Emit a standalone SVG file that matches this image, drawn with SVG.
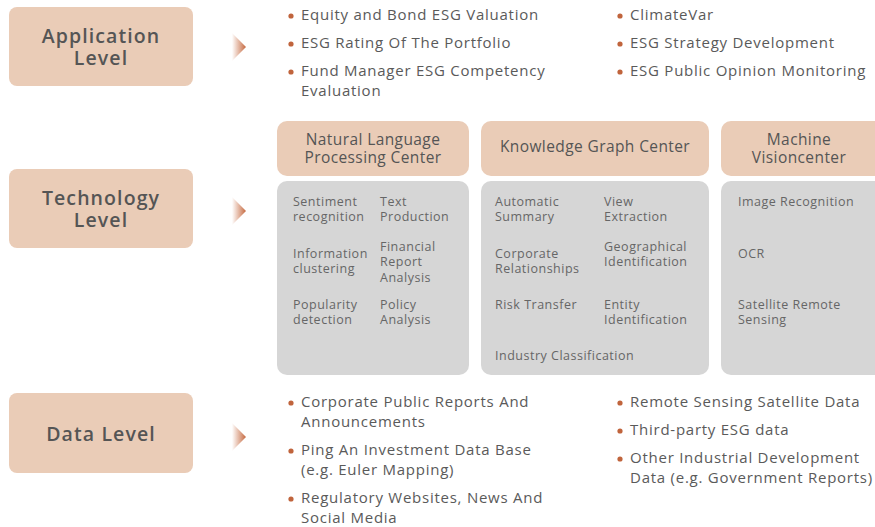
<svg xmlns="http://www.w3.org/2000/svg" width="875" height="527" viewBox="0 0 875 527">
<defs>
<linearGradient id="ag" x1="0" y1="0" x2="1" y2="0">
<stop offset="0" stop-color="#ffffff"/>
<stop offset="1" stop-color="#c6693f"/>
</linearGradient>
<style>
.lvl{fill:#eaccb7}
.lt{font-family:"Open Sans","Liberation Sans",sans-serif;font-size:19.5px;font-weight:600;fill:#555555;text-anchor:middle;letter-spacing:1.1px}
.hdr{fill:#eaccb7}
.body{fill:#d6d6d6}
.ht{font-family:"Open Sans","Liberation Sans",sans-serif;font-size:15.5px;fill:#555555;text-anchor:middle;letter-spacing:0.4px}
.bt{font-family:"Open Sans","Liberation Sans",sans-serif;font-size:12.5px;fill:#666666;letter-spacing:0.5px}
.it{font-family:"Open Sans","Liberation Sans",sans-serif;font-size:15px;fill:#5a5a5a;letter-spacing:0.75px}
.dot{fill:#c0643c}
</style>
</defs>
<rect width="875" height="527" fill="#ffffff"/>

<g id="application-level">
<rect class="lvl" x="9" y="7" width="184" height="79" rx="8"/>
<text class="lt" x="101" y="43">Application<tspan x="101" dy="22">Level</tspan></text>
</g>
<g id="technology-level">
<rect class="lvl" x="9" y="169" width="184" height="79" rx="8"/>
<text class="lt" x="101" y="205">Technology<tspan x="101" dy="22">Level</tspan></text>
</g>
<g id="data-level">
<rect class="lvl" x="9" y="393" width="184" height="80" rx="8"/>
<text class="lt" x="101" y="441">Data Level</text>
</g>

<g id="connectors">
<polygon points="232,33 246,47 232,61" fill="url(#ag)"/>
<polygon points="232,197 246,211 232,225" fill="url(#ag)"/>
<polygon points="232,423 246,437 232,451" fill="url(#ag)"/>
</g>

<g id="application-items">
<circle class="dot" cx="291" cy="16" r="2.6"/>
<text class="it" x="301" y="20">Equity and Bond ESG Valuation</text>
<circle class="dot" cx="291" cy="44" r="2.6"/>
<text class="it" x="301" y="48">ESG Rating Of The Portfolio</text>
<circle class="dot" cx="291" cy="72" r="2.6"/>
<text class="it" x="301" y="76">Fund Manager ESG Competency<tspan x="301" dy="20">Evaluation</tspan></text>
<circle class="dot" cx="620" cy="16" r="2.6"/>
<text class="it" x="630" y="20">ClimateVar</text>
<circle class="dot" cx="620" cy="44" r="2.6"/>
<text class="it" x="630" y="48">ESG Strategy Development</text>
<circle class="dot" cx="620" cy="72" r="2.6"/>
<text class="it" x="630" y="76">ESG Public Opinion Monitoring</text>
</g>

<g id="nlp-center">
<rect class="hdr" x="277" y="121" width="192" height="55" rx="10"/>
<text class="ht" x="373" y="145">Natural Language<tspan x="373" dy="18">Processing Center</tspan></text>
<rect class="body" x="277" y="181" width="192" height="194" rx="10"/>
<text class="bt" x="293" y="206">Sentiment<tspan x="293" dy="15">recognition</tspan></text>
<text class="bt" x="380" y="206">Text<tspan x="380" dy="15">Production</tspan></text>
<text class="bt" x="293" y="258">Information<tspan x="293" dy="15">clustering</tspan></text>
<text class="bt" x="380" y="251">Financial<tspan x="380" dy="15">Report</tspan><tspan x="380" dy="16">Analysis</tspan></text>
<text class="bt" x="293" y="309">Popularity<tspan x="293" dy="15">detection</tspan></text>
<text class="bt" x="380" y="309">Policy<tspan x="380" dy="15">Analysis</tspan></text>
</g>

<g id="kg-center">
<rect class="hdr" x="481" y="121" width="228" height="55" rx="10"/>
<text class="ht" x="595" y="152">Knowledge Graph Center</text>
<rect class="body" x="481" y="181" width="228" height="194" rx="10"/>
<text class="bt" x="495" y="206">Automatic<tspan x="495" dy="15">Summary</tspan></text>
<text class="bt" x="604" y="206">View<tspan x="604" dy="15">Extraction</tspan></text>
<text class="bt" x="495" y="258">Corporate<tspan x="495" dy="15">Relationships</tspan></text>
<text class="bt" x="604" y="251">Geographical<tspan x="604" dy="15">Identification</tspan></text>
<text class="bt" x="495" y="309">Risk Transfer</text>
<text class="bt" x="604" y="309">Entity<tspan x="604" dy="15">Identification</tspan></text>
<text class="bt" x="495" y="360">Industry Classification</text>
</g>

<g id="mv-center">
<rect class="hdr" x="721" y="121" width="170" height="55" rx="10"/>
<text class="ht" x="799" y="145">Machine<tspan x="799" dy="18">Visioncenter</tspan></text>
<rect class="body" x="721" y="181" width="170" height="194" rx="10"/>
<text class="bt" x="738" y="206">Image Recognition</text>
<text class="bt" x="738" y="258">OCR</text>
<text class="bt" x="738" y="309">Satellite Remote<tspan x="738" dy="15">Sensing</tspan></text>
</g>

<g id="data-items">
<circle class="dot" cx="291" cy="403" r="2.6"/>
<text class="it" x="301" y="407">Corporate Public Reports And<tspan x="301" dy="20">Announcements</tspan></text>
<circle class="dot" cx="291" cy="451" r="2.6"/>
<text class="it" x="301" y="455">Ping An Investment Data Base<tspan x="301" dy="20">(e.g. Euler Mapping)</tspan></text>
<circle class="dot" cx="291" cy="499" r="2.6"/>
<text class="it" x="301" y="503">Regulatory Websites, News And<tspan x="301" dy="20">Social Media</tspan></text>
<circle class="dot" cx="620" cy="403" r="2.6"/>
<text class="it" x="630" y="407">Remote Sensing Satellite Data</text>
<circle class="dot" cx="620" cy="431" r="2.6"/>
<text class="it" x="630" y="435">Third-party ESG data</text>
<circle class="dot" cx="620" cy="459" r="2.6"/>
<text class="it" x="630" y="463">Other Industrial Development<tspan x="630" dy="20">Data (e.g. Government Reports)</tspan></text>
</g>
</svg>
